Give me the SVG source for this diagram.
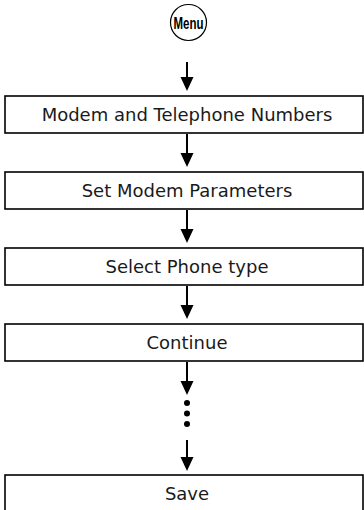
<svg xmlns="http://www.w3.org/2000/svg" width="364" height="510" viewBox="0 0 364 510">
<defs>
<style>
.box{fill:#fff;stroke:#000;stroke-width:1.6}
.lbl{font-family:"DejaVu Sans","Liberation Sans",sans-serif;font-size:18px;fill:#1a1a1a;text-anchor:middle}
.shaft{stroke:#000;stroke-width:2;fill:none}
.head{fill:#000}
.menu{font-family:"Liberation Sans Narrow","Liberation Sans",sans-serif;font-weight:bold;font-size:16.5px;text-anchor:middle;fill:#000}
</style>
</defs>
<g id="menu">
<circle cx="188.5" cy="22.5" r="18" fill="#fff" stroke="#000" stroke-width="1.2"/>
<text class="menu" x="188.5" y="28.5" textLength="30" lengthAdjust="spacingAndGlyphs">Menu</text>
</g>
<g id="connectors">
<line class="shaft" x1="187" y1="62" x2="187" y2="80"/><polygon class="head" points="180.5,77 193.5,77 187,91"/>
<line class="shaft" x1="187" y1="134" x2="187" y2="156"/><polygon class="head" points="180.5,153 193.5,153 187,167"/>
<line class="shaft" x1="187" y1="210" x2="187" y2="232"/><polygon class="head" points="180.5,229 193.5,229 187,243"/>
<line class="shaft" x1="187" y1="286" x2="187" y2="308"/><polygon class="head" points="180.5,305 193.5,305 187,319"/>
<line class="shaft" x1="187" y1="362" x2="187" y2="384"/><polygon class="head" points="180.5,381 193.5,381 187,395"/>
<circle class="head" cx="187" cy="403" r="3"/>
<circle class="head" cx="187" cy="413.5" r="3"/>
<circle class="head" cx="187" cy="424" r="3"/>
<line class="shaft" x1="187" y1="440" x2="187" y2="460"/><polygon class="head" points="180.5,457 193.5,457 187,471"/>
</g>
<g id="n1"><rect class="box" x="5" y="96" width="358" height="37"/><text class="lbl" x="187" y="121">Modem and Telephone Numbers</text></g>
<g id="n2"><rect class="box" x="5" y="172" width="358" height="37"/><text class="lbl" x="187" y="197">Set Modem Parameters</text></g>
<g id="n3"><rect class="box" x="5" y="248" width="358" height="37"/><text class="lbl" x="187" y="273">Select Phone type</text></g>
<g id="n4"><rect class="box" x="5" y="324" width="358" height="37"/><text class="lbl" x="187" y="349">Continue</text></g>
<g id="n5"><rect class="box" x="5" y="475" width="358" height="40"/><text class="lbl" x="187" y="500">Save</text></g>
</svg>
